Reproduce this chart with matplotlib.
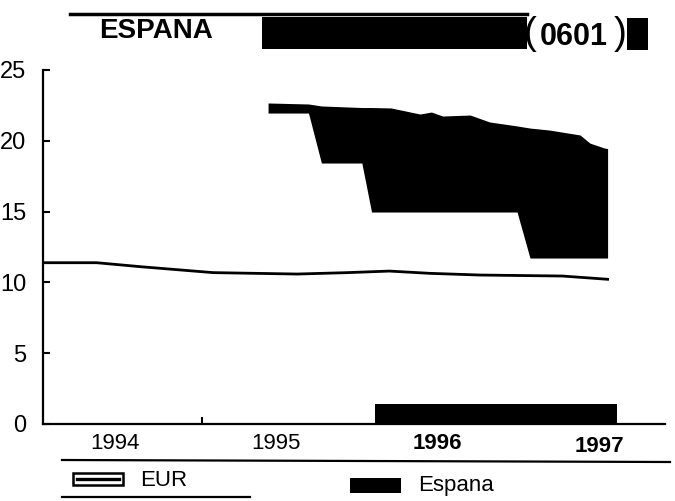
import matplotlib
matplotlib.use("Agg")
import matplotlib.pyplot as plt
from matplotlib.patches import Rectangle
from matplotlib.lines import Line2D

plt.rcParams['font.family'] = ['Liberation Sans', 'DejaVu Sans']

# ---------------- data ----------------
year_labels = ["1994", "1995", "1996", "1997"]
year_label_pos = [1994.5, 1995.5, 1996.5, 1997.5]
y_ticks = [0, 5, 10, 15, 20, 25]

eur_x = [1994.05, 1994.39, 1994.66, 1995.11, 1995.63, 1995.94, 1996.20,
         1996.45, 1996.76, 1997.27, 1997.55]
eur_y = [11.39, 11.39, 11.11, 10.69, 10.59, 10.69, 10.80,
         10.64, 10.52, 10.45, 10.22]

espana_x = [1995.45, 1995.70, 1995.78, 1996.03, 1996.09, 1996.21, 1996.39,
            1996.46, 1996.53, 1996.70, 1996.82, 1996.99, 1997.07, 1997.19,
            1997.38, 1997.44, 1997.53, 1997.55]
espana_upper = [22.67, 22.60, 22.46, 22.35, 22.35, 22.32, 21.89,
                22.03, 21.75, 21.82, 21.33, 21.05, 20.90, 20.76,
                20.41, 19.84, 19.49, 19.45]
espana_lower = [21.96, 21.96, 18.43, 18.43, 14.97, 14.97, 14.97,
                14.97, 14.97, 14.97, 14.97, 14.97, 11.72, 11.72,
                11.72, 11.72, 11.72, 11.72]

bar_start = [1996.11]
bar_end = [1997.61]
bar_height = [1.41]

minor_tick = [1995.04]

# ---------------- figure ----------------
W, H = 675, 501
fig = plt.figure(figsize=(W / 100, H / 100), dpi=100)


def fx(x):
    return x / W


def fy(y):
    return 1 - y / H


ax = fig.add_axes([fx(43), fy(424), fx(665) - fx(43), fy(70) - fy(424)])
ax.set_xlim(1994.058, 1997.905)
ax.set_ylim(0, 25)

ax.fill_between(espana_x, espana_lower, espana_upper, color='black', lw=0)
for s, e, h in zip(bar_start, bar_end, bar_height):
    ax.bar(s, h, width=e - s, align='edge', color='black', lw=0)
ax.plot(eur_x, eur_y, color='black', lw=2.0)

for sp in ['top', 'right']:
    ax.spines[sp].set_visible(False)
ax.spines['left'].set_linewidth(1.6)
ax.spines['bottom'].set_linewidth(1.6)

ax.set_yticks(y_ticks)
ax.set_yticklabels([str(v) for v in y_ticks], fontsize=17)
ax.tick_params(axis='y', direction='in', length=5, width=1.5, pad=12)
ax.set_xticks(minor_tick)
ax.set_xticklabels([""])
ax.tick_params(axis='x', direction='in', length=5, width=1.5)

for lab, pos in zip(year_labels, year_label_pos):
    bold = lab in ("1996", "1997")
    ax.text(pos, -1.35 if lab != "1997" else -1.6, lab, ha='center', va='center',
            fontsize=16, fontweight='bold' if bold else 'normal',
            transform=ax.transData, clip_on=False)

# ---------------- header ----------------
fig.add_artist(Line2D([fx(70), fx(527)], [fy(14), fy(14)], color='black', lw=2.5))
fig.add_artist(Rectangle((fx(262), fy(49)), fx(527) - fx(262), fy(17) - fy(49),
                         color='black', lw=0))
fig.text(fx(99), fy(31), "ESPANA", fontsize=20, fontweight='bold',
         ha='left', va='center')
fig.text(fx(530), fy(34), "(", fontsize=28, ha='center', va='center')
fig.text(fx(574), fy(37), "0601", fontsize=22, fontweight='bold',
         ha='center', va='center')
fig.text(fx(620), fy(34), ")", fontsize=28, ha='center', va='center')
fig.add_artist(Rectangle((fx(627), fy(50)), fx(648) - fx(627), fy(18) - fy(50),
                         color='black', lw=0))

# ---------------- legend ----------------
fig.add_artist(Line2D([fx(62), fx(670)], [fy(460), fy(462)], color='black', lw=1.6))
fig.add_artist(Line2D([fx(62), fx(250)], [fy(497), fy(497)], color='black', lw=1.6))
fig.add_artist(Rectangle((fx(73), fy(485)), fx(123) - fx(73), fy(473) - fy(485),
                         facecolor='white', edgecolor='black', lw=1.8))
fig.add_artist(Line2D([fx(77), fx(119)], [fy(479), fy(479)], color='black', lw=2.4))
fig.text(fx(140), fy(480), "EUR", fontsize=16, ha='left', va='center')
fig.add_artist(Rectangle((fx(350), fy(493)), fx(401) - fx(350), fy(478) - fy(493),
                         color='black', lw=0))
fig.text(fx(418), fy(486), "Espana", fontsize=16, ha='left', va='center')

fig.savefig("out.png", dpi=100)
